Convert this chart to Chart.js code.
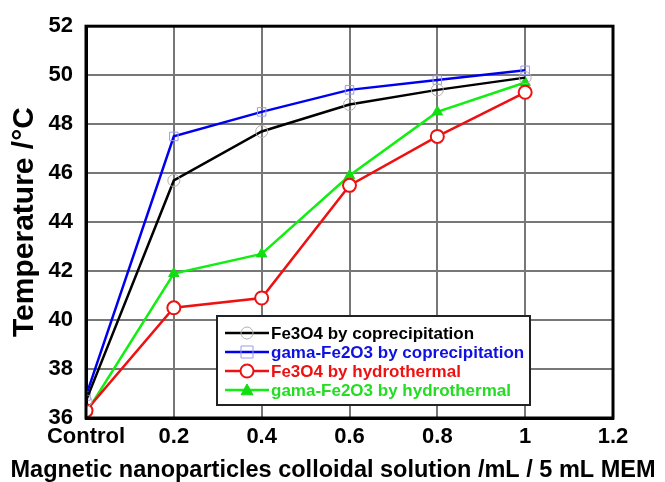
<!DOCTYPE html>
<html>
<head>
<meta charset="utf-8">
<script src="https://cdn.jsdelivr.net/npm/chart.js@4/dist/chart.umd.min.js"></script>
<style>
  html,body{margin:0;padding:0;background:#fff;}
  #wrap{width:665px;height:482px;}
</style>
</head>
<body>
<div id="wrap"><canvas id="chart" width="665" height="482"></canvas></div>
<script>
// data
const doses=[0,0.2,0.4,0.6,0.8,1];
const fe3o4Coprec=[36.7,45.7,47.7,48.8,49.4,49.9];
const gamaCoprec=[36.9,47.5,48.5,49.4,49.8,50.2];
const fe3o4Hydro=[36.3,40.5,40.9,45.5,47.5,49.3];
const gamaHydro=[36.2,41.9,42.7,45.9,48.5,49.7];
const seriesNames=["Fe3O4 by coprecipitation","gama-Fe2O3 by coprecipitation","Fe3O4 by hydrothermal","gama-Fe2O3 by hydrothermal"];
const xTitle="Magnetic nanoparticles colloidal solution /mL / 5 mL MEM";
const yTitle="Temperature /°C";

const pts=(vals)=>doses.map((d,i)=>({x:d,y:vals[i]}));
const FONT="'Liberation Sans', Arial, sans-serif";

const legendBox={
    id:"legendBox",
    afterDraw(chart){
        const ctx=chart.ctx;
        const x0=217,y0=316,w=313,h=89;
        ctx.save();
        ctx.fillStyle="#fff";
        ctx.fillRect(x0,y0,w,h);
        ctx.strokeStyle="#222";
        ctx.lineWidth=2;
        ctx.strokeRect(x0,y0,w,h);
        chart.data.datasets.forEach((ds,i)=>{
            const y=y0+17+i*19;
            ctx.strokeStyle=ds.borderColor;
            ctx.lineWidth=2.5;
            ctx.beginPath();
            ctx.moveTo(225,y);ctx.lineTo(269,y);ctx.stroke();
            ctx.lineWidth=ds.pointBorderWidth;
            ctx.strokeStyle=ds.pointBorderColor;
            ctx.fillStyle=ds.pointBackgroundColor;
            const r=ds.pointRadius;
            const cx=247;
            ctx.beginPath();
            if(ds.pointStyle==="circle"){ctx.arc(cx,y,r,0,Math.PI*2);}
            else if(ds.pointStyle==="rect"){ctx.rect(cx-r,y-r,2*r,2*r);}
            else if(ds.pointStyle==="triangle"){ctx.moveTo(cx,y-r);ctx.lineTo(cx+r,y+r*0.8);ctx.lineTo(cx-r,y+r*0.8);ctx.closePath();}
            ctx.fill();ctx.stroke();
            ctx.fillStyle=ds.textColor;
            ctx.font="bold 17px "+FONT;
            ctx.textBaseline="middle";
            ctx.textAlign="left";
            ctx.fillText(ds.label,271,y+1);
        });
        // x axis title, drawn by hand so it can run wider than the plot
        ctx.fillStyle="#000";
        ctx.font="bold 23.5px "+FONT;
        ctx.textAlign="center";
        ctx.textBaseline="alphabetic";
        ctx.fillText(xTitle,333,477);
        ctx.restore();
    }
};

new Chart(document.getElementById("chart"),{
    type:"line",
    data:{
        datasets:[
            {label:seriesNames[0],data:pts(fe3o4Coprec),borderColor:"#000",borderWidth:2.5,textColor:"#000",
             pointStyle:"circle",pointRadius:6,pointBorderWidth:1,pointBorderColor:"#b0b0b0",pointBackgroundColor:"rgba(255,255,255,0)"},
            {label:seriesNames[1],data:pts(gamaCoprec),borderColor:"#0000ee",borderWidth:2.5,textColor:"#1010e0",
             pointStyle:"rect",pointRadius:6,pointBorderWidth:1,pointBorderColor:"#9a9af0",pointBackgroundColor:"rgba(255,255,255,0)"},
            {label:seriesNames[2],data:pts(fe3o4Hydro),borderColor:"#ee1111",borderWidth:2.5,textColor:"#ee1111",
             pointStyle:"circle",pointRadius:6.5,pointBorderWidth:2,pointBorderColor:"#ee1111",pointBackgroundColor:"#fff"},
            {label:seriesNames[3],data:pts(gamaHydro),borderColor:"#11ee11",borderWidth:2.5,textColor:"#22dd22",
             pointStyle:"triangle",pointRadius:6,pointBorderWidth:1,pointBorderColor:"#11dd11",pointBackgroundColor:"#11dd11"}
        ]
    },
    options:{
        responsive:false,
        animation:false,
        layout:{padding:{top:24,right:52,left:0,bottom:0}},
        plugins:{legend:{display:false},tooltip:{enabled:false}},
        scales:{
            x:{
                type:"linear",min:0,max:1.2,
                ticks:{stepSize:0.2,color:"#000",font:{family:FONT,size:22,weight:"bold"},padding:6,maxRotation:0,
                    callback:(v)=>v===0?"Control":String(Math.round(v*10)/10)},
                grid:{color:"#777",lineWidth:2,drawTicks:false},
                border:{color:"#000",width:3},
                title:{display:false},
                afterFit(s){s.height=64;}
            },
            y:{
                min:36,max:52,
                ticks:{stepSize:2,color:"#000",font:{family:FONT,size:22,weight:"bold"},padding:13},
                grid:{color:"#777",lineWidth:2,drawTicks:false},
                border:{color:"#000",width:3},
                title:{display:true,text:yTitle,color:"#000",font:{family:FONT,size:30,weight:"bold"},padding:{top:7,bottom:0}},
                afterFit(s){s.width=86;}
            }
        }
    },
    plugins:[legendBox,{
        id:"frame",
        afterDatasetsDraw(chart){
            const a=chart.chartArea,ctx=chart.ctx;
            ctx.save();ctx.strokeStyle="#000";ctx.lineWidth=3;
            ctx.strokeRect(a.left,a.top,a.right-a.left,a.bottom-a.top);
            ctx.restore();
        }
    }]
});
</script>
</body>
</html>
